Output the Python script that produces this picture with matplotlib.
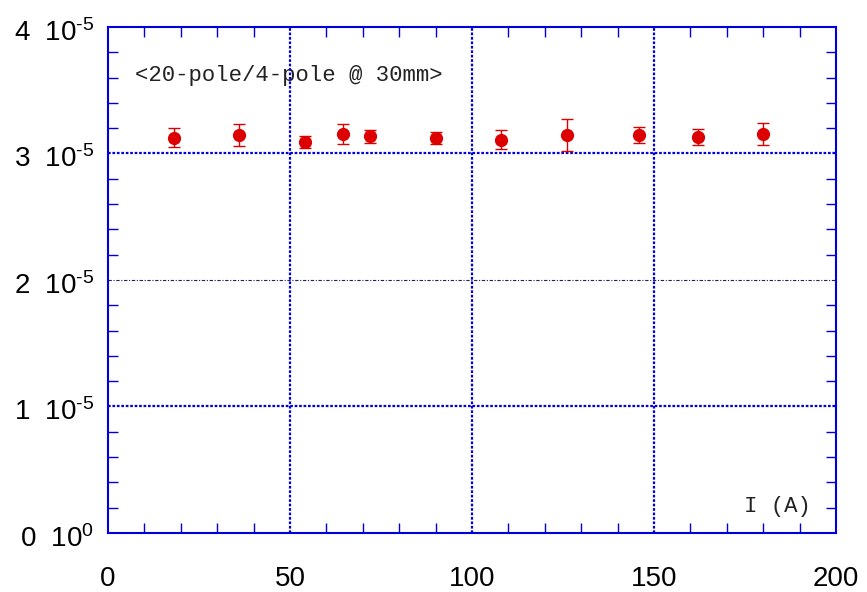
import matplotlib
matplotlib.use("Agg")
import matplotlib.pyplot as plt
import matplotlib.transforms as mtransforms
from matplotlib.ticker import MultipleLocator, FixedLocator, FixedFormatter

plt.rcParams['mathtext.fontset'] = 'custom'
plt.rcParams['mathtext.rm'] = 'Liberation Sans'
plt.rcParams['mathtext.it'] = 'Liberation Sans'
plt.rcParams['font.family'] = ['Liberation Sans', 'DejaVu Sans']

current = [18, 36, 54, 64.5, 72, 90, 108, 126, 146, 162, 180]
ratio = [3.125e-5, 3.146e-5, 3.091e-5, 3.154e-5, 3.136e-5, 3.123e-5,
         3.109e-5, 3.149e-5, 3.146e-5, 3.130e-5, 3.154e-5]
ratio_err = [0.075e-5, 0.085e-5, 0.046e-5, 0.080e-5, 0.053e-5, 0.045e-5,
             0.077e-5, 0.126e-5, 0.061e-5, 0.065e-5, 0.086e-5]

x_ticks = [0, 50, 100, 150, 200]
x_ticklabels = ['0', '50', '100', '150', '200']
y_ticks = [0, 1e-5, 2e-5, 3e-5, 4e-5]
y_ticklabels = [r'$0\ \ 10^{0}$', r'$1\ \ 10^{\text{-}5}$', r'$2\ \ 10^{\text{-}5}$',
                r'$3\ \ 10^{\text{-}5}$', r'$4\ \ 10^{\text{-}5}$']

title_text = '<20-pole/4-pole @ 30mm>'
xlabel_text = 'I (A)'

blue = '#0000dd'

fig = plt.figure(figsize=(8.67, 5.92), dpi=100)
ax = fig.add_axes([0.1246, 0.0997, 0.9642 - 0.1246, 0.9544 - 0.0997])

ax.set_xlim(0, 200)
ax.set_ylim(0, 4e-5)

# grid lines
for xv in x_ticks[1:-1]:
    ax.axvline(xv, color=blue, lw=1.6, ls=(0, (1.2, 0.8)), zorder=3)
for yv in [1e-5, 3e-5]:
    ax.axhline(yv, color=blue, lw=1.6, ls=(0, (1.2, 0.8)), zorder=1)
ax.axhline(2e-5, color='#202060', lw=0.8, ls=(0, (3, 1.5, 1, 1.5)), zorder=1)

ax.errorbar(current, ratio, yerr=ratio_err, fmt='o', color='#dd0000',
            ecolor='#dd0000', markersize=8.5, elinewidth=1.0, capsize=4.3,
            capthick=1.0, zorder=2)

ax.xaxis.set_major_locator(FixedLocator(x_ticks))
ax.xaxis.set_major_formatter(FixedFormatter(x_ticklabels))
ax.yaxis.set_major_locator(FixedLocator(y_ticks))
ax.yaxis.set_major_formatter(FixedFormatter(y_ticklabels))
ax.xaxis.set_minor_locator(MultipleLocator(10))
ax.yaxis.set_minor_locator(MultipleLocator(0.2e-5))

ax.tick_params(which='both', direction='in', top=True, right=True, color=blue)
ax.tick_params(which='major', length=0)
ax.tick_params(axis='x', which='major', labelsize=20, pad=24)
ax.tick_params(axis='y', which='major', labelsize=20, pad=10)
ax.tick_params(which='minor', length=7, width=1.0)

offset = mtransforms.ScaledTranslation(0, -3 / 100, fig.dpi_scale_trans)
for lab in ax.get_yticklabels():
    lab.set_transform(lab.get_transform() + offset)

for sp in ax.spines.values():
    sp.set_color(blue)
    sp.set_linewidth(1.5)

ax.text(0.037, 0.905, title_text, transform=ax.transAxes, fontsize=16,
        family='Liberation Mono', color='#222222', ha='left', va='center', zorder=1)
ax.text(0.965, 0.053, xlabel_text, transform=ax.transAxes, fontsize=16,
        family='Liberation Mono', color='#222222', ha='right', va='center')

fig.savefig('out.png', dpi=100)
